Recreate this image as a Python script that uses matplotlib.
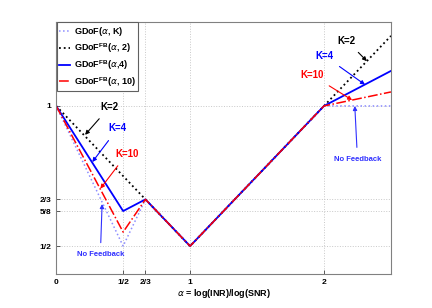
import matplotlib.pyplot as plt

plt.rcParams['font.family'] = ['Liberation Sans', 'DejaVu Sans']
plt.rcParams['mathtext.fontset'] = 'custom'
plt.rcParams['mathtext.rm'] = 'Liberation Sans:bold'
plt.rcParams['mathtext.bf'] = 'Liberation Sans:bold'

# breakpoints of alpha
alpha = [0, 1/2, 2/3, 1, 2, 2.5]
gdof_nofb = [1, 1/2, 2/3, 1/2, 1, 1]
gdof_k2 = [1, 0.75, 2/3, 1/2, 1, 1.25]
gdof_k4 = [1, 0.625, 2/3, 1/2, 1, 1.125]
gdof_k10 = [1, 0.55, 2/3, 1/2, 1, 1.05]

xticks = [0, 1/2, 2/3, 1, 2]
xtick_labels = ['0', '1/2', '2/3', '1', '2']
yticks = [1/2, 5/8, 2/3, 1]
ytick_labels = ['1/2', '5/8', '2/3', '1']

fig = plt.figure(figsize=(4.32, 3.08), dpi=100)
ax = fig.add_axes([0.13, 0.11, 0.775, 0.819])

ax.plot(alpha, gdof_nofb, ':', color='#8c8cff', lw=1.1, label=r'GDoF($\alpha$, K)')
ax.plot(alpha, gdof_k2, ':', color='black', lw=1.3, label=r'GDoF$^{\mathrm{FB}}$($\alpha$, 2)')
ax.plot(alpha, gdof_k4, '-', color='blue', lw=1.3, label=r'GDoF$^{\mathrm{FB}}$($\alpha$,4)')
ax.plot(alpha, gdof_k10, '-.', color='red', lw=1.1, label=r'GDoF$^{\mathrm{FB}}$($\alpha$, 10)')

ax.set_xlim(0, 2.5)
ax.set_ylim(0.4, 1.3)
ax.set_xticks(xticks)
ax.set_xticklabels(xtick_labels)
ax.set_yticks(yticks)
ax.set_yticklabels(ytick_labels)
ax.tick_params(direction='in', labelsize=6, length=3, width=0.6, colors='#404040',
               labelcolor='black')
for lab in ax.get_xticklabels() + ax.get_yticklabels():
    lab.set_fontweight('bold')
ax.grid(True, linestyle=':', color='#c8c8c8', lw=0.7)
for s in ax.spines.values():
    s.set_color('#808080')
    s.set_linewidth(0.8)

ax.set_xlabel(r'$\alpha$ = log(INR)/log(SNR)', fontsize=6.5, fontweight='bold', labelpad=1)

def note(text, xy, xytext, color, size=7):
    ax.annotate(text, xy=xy, xytext=xytext, color=color, fontsize=size, fontweight='bold',
                ha='center', va='center',
                arrowprops=dict(arrowstyle='-|>', color=color, lw=0.8,
                                mutation_scale=6, shrinkA=4, shrinkB=0))

# left side labels
note('K=2', (0.216, 0.897), (0.40, 0.997), 'black')
note('K=4', (0.27, 0.80), (0.46, 0.92), 'blue')
note('K=10', (0.33, 0.705), (0.53, 0.83), 'red')
note('No Feedback', (0.343, 0.65), (0.33, 0.47), '#3030ff', size=5.5)
# right side labels
note('K=2', (2.32, 1.16), (2.17, 1.233), 'black')
note('K=4', (2.306, 1.076), (2.0, 1.18), 'blue')
note('K=10', (2.21, 1.021), (1.91, 1.11), 'red')
note('No Feedback', (2.23, 1.0), (2.25, 0.81), '#3030ff', size=5.5)

leg = ax.legend(loc='upper left', prop={'weight': 'bold', 'size': 6.5},
                handlelength=1.2, handletextpad=0.4, borderpad=0.3, labelspacing=0.35,
                borderaxespad=0.05, fancybox=False, framealpha=1)
leg.get_frame().set_edgecolor('#606060')
leg.get_frame().set_linewidth(0.8)

fig.savefig('out.png', dpi=100)
